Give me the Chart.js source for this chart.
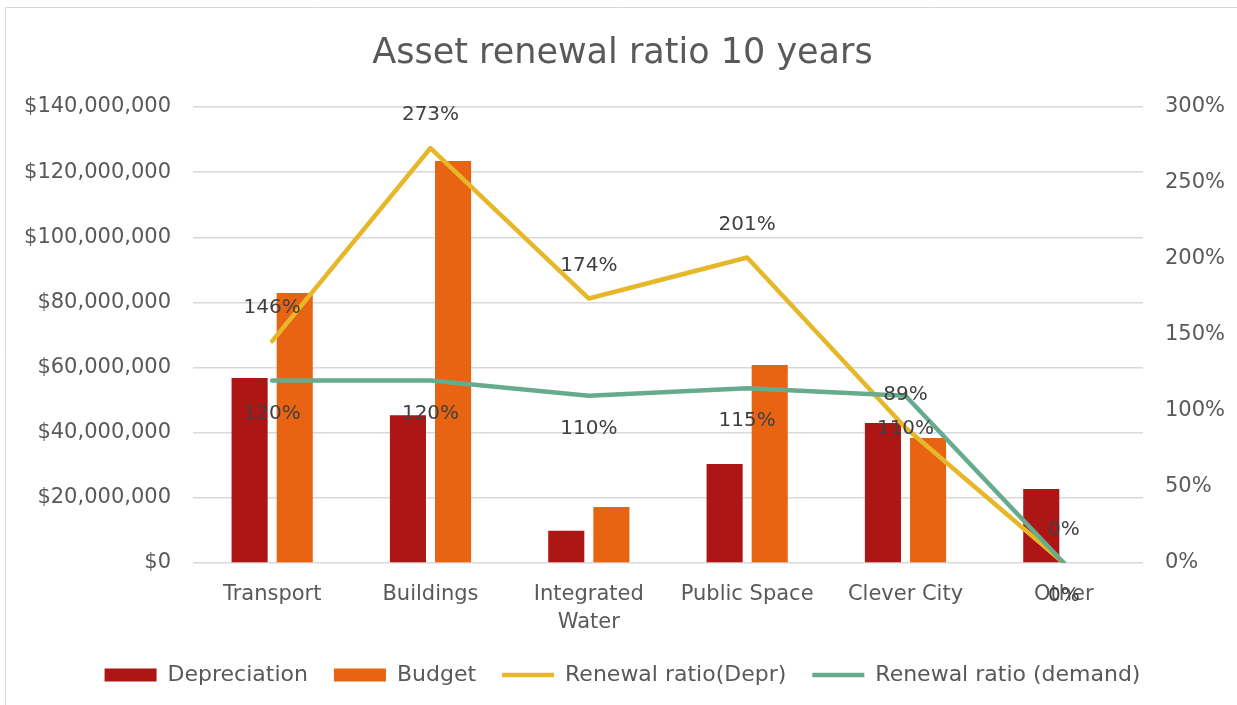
<!DOCTYPE html>
<html>
<head>
<meta charset="utf-8">
<title>Asset renewal ratio 10 years</title>
<script src="https://cdn.jsdelivr.net/npm/chart.js@4.4.0/dist/chart.umd.min.js"></script>
<style>
    html, body { margin: 0; padding: 0; background: #fff; }
    #wrap { position: relative; width: 1237px; height: 705px; }
</style>
</head>
<body>
<div id="wrap"><canvas id="assetChart" width="1237" height="705"></canvas></div>
<script>
// Chart data
const categories = ['Transport', 'Buildings', ['Integrated', 'Water'], 'Public Space', 'Clever City', 'Other'];
const depreciation = [56800000, 45400000, 9900000, 30400000, 43000000, 22700000];
const budget = [82900000, 123400000, 17200000, 60800000, 38400000, 0];
const ratioDepr = [146, 273, 174, 201, 89, 0];
const ratioDemand = [120, 120, 110, 115, 110, 0];

const TEXT = '#595959';
const FONT = 'DejaVu Sans';

// Draws the % labels above (Depr) or below (demand) each line point
const pointLabels = {
    id: 'pointLabels',
    afterDatasetsDraw(chart) {
        const ctx = chart.ctx;
        ctx.save();
        ctx.font = `20px "${FONT}"`;
        ctx.fillStyle = '#404040';
        ctx.textAlign = 'center';
        ctx.textBaseline = 'middle';
        chart.data.datasets.forEach((ds, i) => {
            if (ds.type !== 'line') return;
            const meta = chart.getDatasetMeta(i);
            const dy = ds.labelOffset;
            meta.data.forEach((pt, j) => {
                ctx.fillText(ds.data[j] + '%', pt.x, pt.y + dy);
            });
        });
        ctx.restore();
    }
};

// Light frame round the chart
const frame = {
    id: 'frame',
    beforeDraw(chart) {
        const ctx = chart.ctx;
        ctx.save();
        ctx.strokeStyle = '#d9d9d9';
        ctx.lineWidth = 1;
        ctx.beginPath();
        ctx.moveTo(5.5, 705);
        ctx.lineTo(5.5, 7.5);
        ctx.lineTo(1237, 7.5);
        ctx.stroke();
        ctx.restore();
    }
};

new Chart(document.getElementById('assetChart'), {
    type: 'bar',
    data: {
        labels: categories,
        datasets: [
            {
                label: 'Depreciation',
                data: depreciation,
                backgroundColor: '#ae1515',
                yAxisID: 'y',
                order: 2,
                categoryPercentage: 0.57,
                barPercentage: 0.8
            },
            {
                label: 'Budget',
                data: budget,
                backgroundColor: '#e86413',
                yAxisID: 'y',
                order: 2,
                categoryPercentage: 0.57,
                barPercentage: 0.8
            },
            {
                type: 'line',
                label: 'Renewal ratio(Depr)',
                data: ratioDepr,
                borderColor: '#e6b729',
                backgroundColor: '#e6b729',
                borderWidth: 4.5,
                borderCapStyle: 'round',
                borderJoinStyle: 'round',
                pointRadius: 0,
                tension: 0,
                yAxisID: 'y1',
                order: 1,
                labelOffset: -33
            },
            {
                type: 'line',
                label: 'Renewal ratio (demand)',
                data: ratioDemand,
                borderColor: '#67ab8f',
                backgroundColor: '#67ab8f',
                borderWidth: 4.5,
                borderCapStyle: 'round',
                borderJoinStyle: 'round',
                pointRadius: 0,
                tension: 0,
                yAxisID: 'y1',
                order: 0,
                labelOffset: 33
            }
        ]
    },
    options: {
        responsive: false,
        animation: false,
        layout: { padding: { left: 20, right: 12, top: 0, bottom: 9 } },
        plugins: {
            title: {
                display: true,
                text: 'Asset renewal ratio 10 years',
                color: TEXT,
                font: { family: FONT, size: 35, weight: 'normal', lineHeight: 1.2 },
                padding: { top: 33, bottom: 32 }
            },
            legend: {
                position: 'bottom',
                labels: {
                    color: TEXT,
                    font: { family: FONT, size: 22 },
                    usePointStyle: true,
                    pointStyleWidth: 52,
                    boxHeight: 13,
                    padding: 26,
                    sort: (a, b) => a.datasetIndex - b.datasetIndex,
                    generateLabels: (chart) => {
                        const items = Chart.defaults.plugins.legend.labels.generateLabels(chart);
                        return items.map(it => {
                            const ds = chart.data.datasets[it.datasetIndex];
                            it.pointStyle = ds.type === 'line' ? 'line' : 'rect';
                            return it;
                        });
                    }
                }
            },
            tooltip: { enabled: false }
        },
        scales: {
            x: {
                grid: { display: false, drawTicks: false },
                border: { display: false },
                ticks: {
                    color: TEXT,
                    font: { family: FONT, size: 21, lineHeight: 1.35 },
                    padding: 17,
                    maxRotation: 0,
                    autoSkip: false
                },
                afterFit: (scale) => { scale.height = 75; }
            },
            y: {
                position: 'left',
                min: 0,
                max: 140000000,
                grid: { color: '#d9d9d9', lineWidth: 1.5, drawTicks: false },
                border: { display: false },
                ticks: {
                    stepSize: 20000000,
                    color: TEXT,
                    font: { family: FONT, size: 21 },
                    padding: 22,
                    callback: (value) => '$' + value.toLocaleString('en-US')
                },
                afterFit: (scale) => { scale.width = 173; }
            },
            y1: {
                position: 'right',
                min: 0,
                max: 300,
                grid: { display: false, drawTicks: false },
                border: { display: false },
                ticks: {
                    stepSize: 50,
                    color: TEXT,
                    font: { family: FONT, size: 21 },
                    padding: 22,
                    callback: (value) => value + '%'
                },
                afterFit: (scale) => { scale.width = 82; }
            }
        }
    },
    plugins: [frame, pointLabels]
});
</script>
</body>
</html>
